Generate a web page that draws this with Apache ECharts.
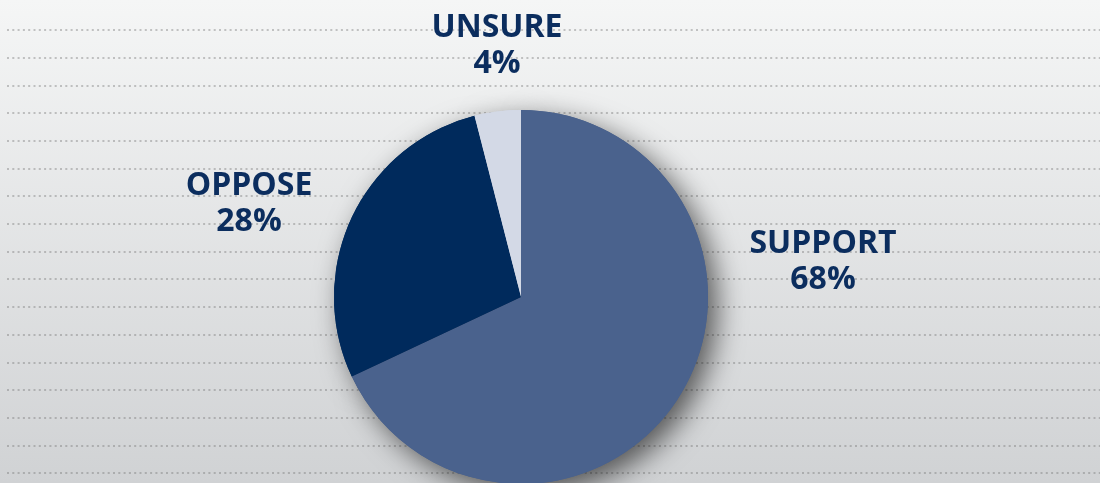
<!DOCTYPE html>
<html>
<head>
<meta charset="utf-8">
<script src="https://cdn.jsdelivr.net/npm/echarts@6/dist/echarts.min.js"></script>
<style>
html,body{margin:0;padding:0;}
#chart{width:1100px;height:483px;}
</style>
</head>
<body>
<div id="chart"></div>
<script>
// Data
var categories = ['SUPPORT', 'OPPOSE', 'UNSURE'];
var values = [68, 28, 4];
var colors = ['#4a628d', '#002a5c', '#d3d9e6'];

// Label anchor points (layout, not data)
var labelAnchors = [[823, 262], [249, 204], [497, 46]];

var chart = echarts.init(document.getElementById('chart'), null, {renderer: 'canvas'});

var pieData = categories.map(function (c, i) {
  return {name: c, value: values[i], itemStyle: {color: colors[i]}};
});

var option = {
  animation: false,
  backgroundColor: {
    type: 'linear', x: 0, y: 0, x2: 0, y2: 1,
    colorStops: [
      {offset: 0, color: '#f5f6f6'},
      {offset: 1, color: '#d0d2d4'}
    ]
  },
  grid: {left: 7, right: 0, top: 30, bottom: 10},
  xAxis: {type: 'value', show: false, min: 0, max: 1},
  yAxis: {
    type: 'value', min: 0, max: 16, interval: 1,
    axisLine: {show: false}, axisTick: {show: false}, axisLabel: {show: false},
    splitLine: {show: true, lineStyle: {type: [2, 3.3], width: 2, color: 'rgba(110,110,110,0.38)'}}
  },
  series: [
    {
      type: 'pie',
      silent: true,
      z: 1,
      center: [521, 297],
      radius: 187,
      startAngle: 90,
      clockwise: true,
      label: {show: false},
      labelLine: {show: false},
      itemStyle: {
        shadowColor: 'rgba(0,0,0,0.6)',
        shadowBlur: 28,
        shadowOffsetX: 9,
        shadowOffsetY: 9
      },
      data: pieData
    },
    {
      type: 'pie',
      z: 2,
      center: [521, 297],
      radius: 187,
      startAngle: 90,
      clockwise: true,
      labelLine: {show: false},
      label: {
        show: true,
        position: 'outside',
        formatter: function (p) { return p.name + '\n' + p.value + '%'; },
        fontFamily: 'Open Sans',
        fontWeight: 'bold',
        fontSize: 32,
        lineHeight: 36,
        color: '#0b2d5e',
        align: 'center'
      },
      labelLayout: function (params) {
        var a = labelAnchors[params.dataIndex];
        return {x: a[0], y: a[1], align: 'center', verticalAlign: 'middle'};
      },
      data: pieData
    }
  ]
};
chart.setOption(option);
</script>
</body>
</html>
